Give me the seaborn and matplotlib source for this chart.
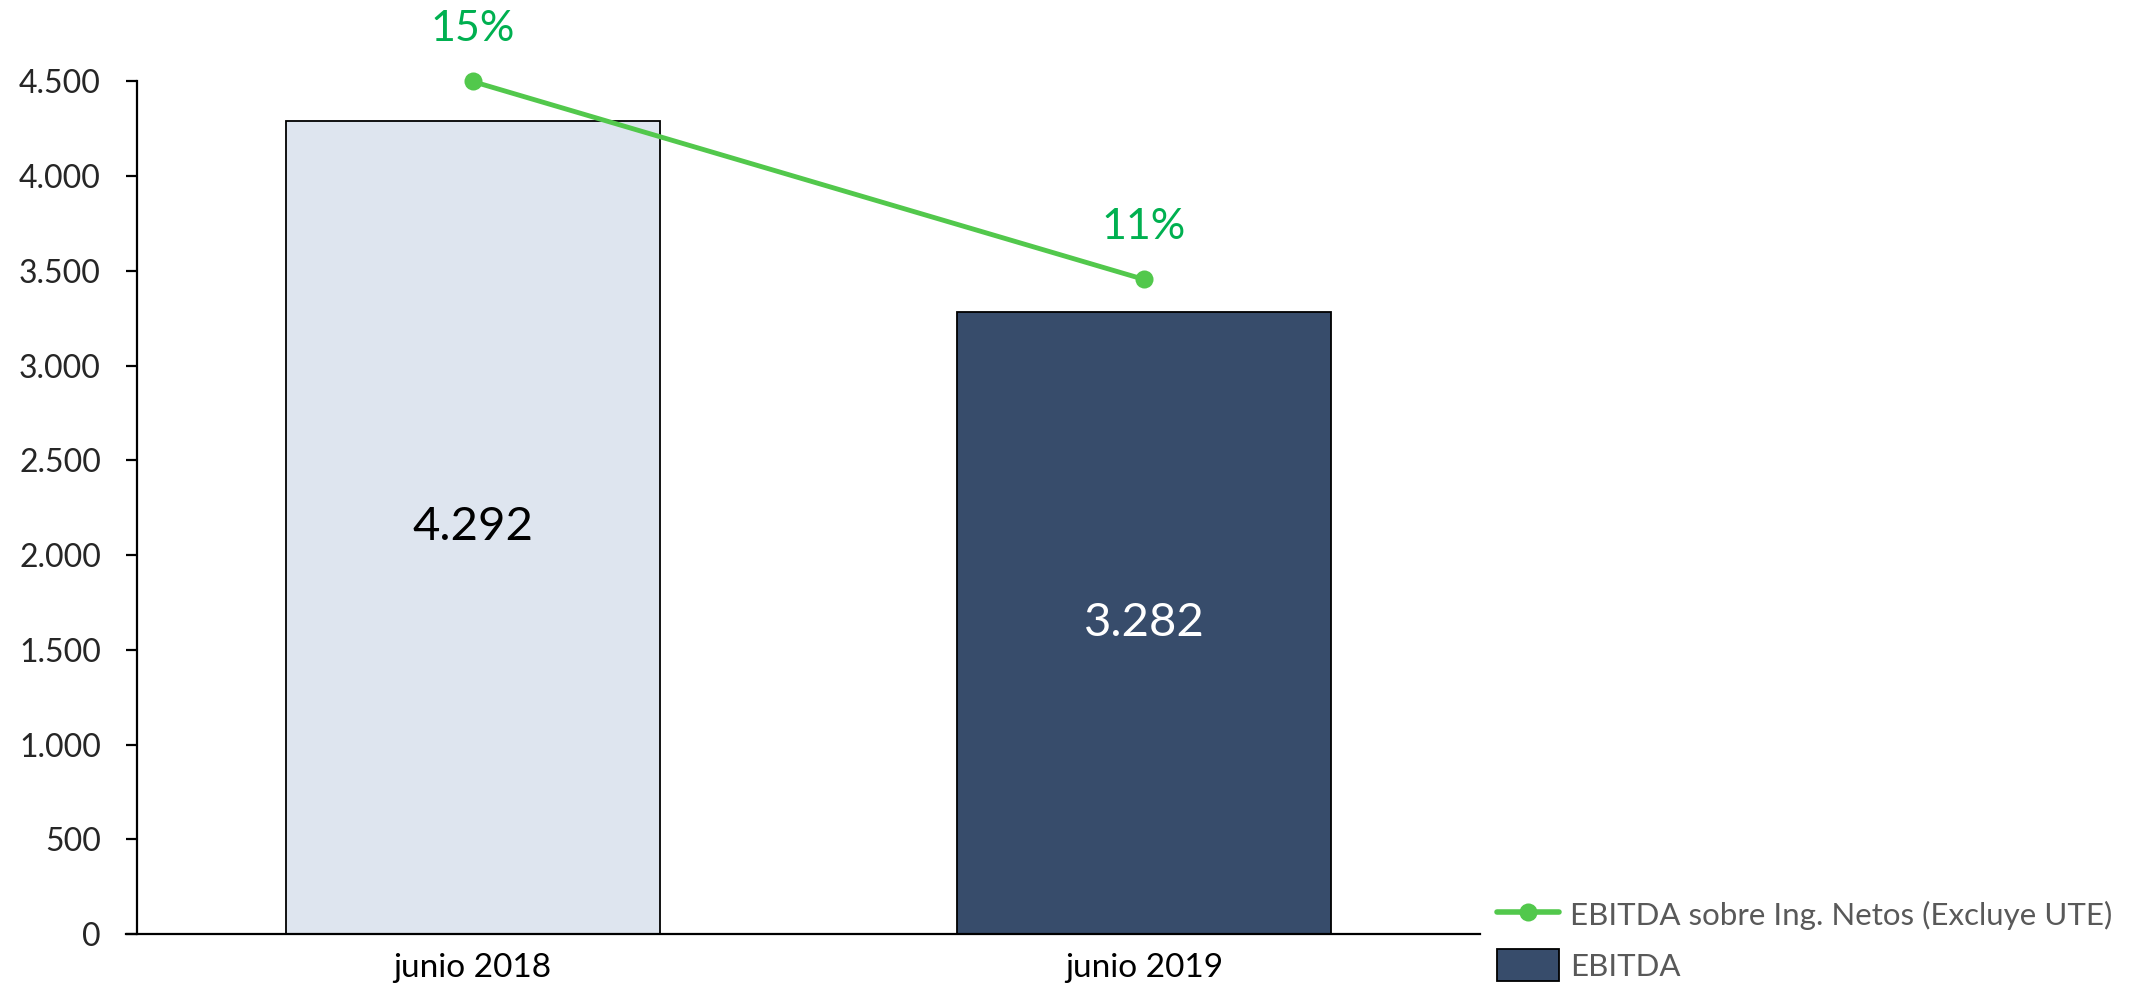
import pandas as pd
import seaborn as sns
import matplotlib.pyplot as plt
from matplotlib.ticker import FuncFormatter, MultipleLocator
from matplotlib.lines import Line2D
from matplotlib.patches import Patch

periods = ["junio 2018", "junio 2019"]
ebitda = [4292, 3282]
margin_pct = [15, 11]
bar_colors = ["#DEE5EF", "#374C6B"]
label_colors = ["black", "white"]
line_color = "#52C84C"
pct_color = "#00B050"

sns.set_theme(style="white")
plt.rcParams["font.family"] = ["Lato", "DejaVu Sans"]


def thousands(x, pos=None):
    return f"{x:,.0f}".replace(",", ".")


df = pd.DataFrame({"period": periods, "ebitda": ebitda, "margin": margin_pct})
df["pos"] = range(len(df))

fig = plt.figure(figsize=(21.48, 9.89), dpi=100)
ax = fig.add_axes([0.0638, 0.0556, 0.625, 0.862])

sns.barplot(data=df, x="period", y="ebitda", hue="period", palette=bar_colors,
            legend=False, width=0.557, edgecolor="black", linewidth=1.3,
            saturation=1, ax=ax)

ax.set_xlim(-0.5, 1.5)
ax.set_ylim(0, 4500)
ax.yaxis.set_major_locator(MultipleLocator(500))
ax.yaxis.set_major_formatter(FuncFormatter(thousands))
ax.set_xlabel("")
ax.set_ylabel("")
for s in ["top", "right"]:
    ax.spines[s].set_visible(False)
for s in ["left", "bottom"]:
    ax.spines[s].set_color("black")
    ax.spines[s].set_linewidth(1.6)
ax.spines["bottom"].set_bounds(-0.517, 1.5)
ax.tick_params(axis="y", which="major", left=True, length=8, width=1.6,
               color="black", labelsize=23, labelcolor="#262626", pad=18)
ax.tick_params(axis="x", bottom=False, labelsize=24, labelcolor="black", pad=8)

# value labels inside the bars
for bar, val, col in zip(ax.patches, ebitda, label_colors):
    ax.text(bar.get_x() + bar.get_width() / 2, val / 2, thousands(val),
            ha="center", va="center", fontsize=34, color=col)

# EBITDA margin on a hidden secondary axis
ax2 = ax.twinx()
sns.lineplot(data=df, x="pos", y="margin", color=line_color, linewidth=3.5,
             marker="o", markersize=13, markeredgewidth=0, ax=ax2, clip_on=False)
ax2.set_ylim(-2.23, 15.0)
ax2.set_xlim(-0.5, 1.5)
ax2.axis("off")
for x, v in zip(df["pos"], margin_pct):
    ax2.annotate(f"{v}%", (x, v), xytext=(0, 38), textcoords="offset points",
                 ha="center", va="center", fontsize=31, color=pct_color,
                 annotation_clip=False)

handles = [
    Line2D([0], [0], color=line_color, linewidth=4, marker="o", markersize=13,
           markeredgewidth=0),
    Patch(facecolor=bar_colors[1], edgecolor="black", linewidth=1.3),
]
fig.legend(handles, ["EBITDA sobre Ing. Netos (Excluye UTE)", "EBITDA"],
           loc="lower left", bbox_to_anchor=(0.691, -0.005), frameon=False,
           borderaxespad=0, fontsize=22.5, labelcolor="#595959",
           handlelength=2.0, handleheight=1.2, handletextpad=0.35,
           labelspacing=0.6)

fig.savefig("out.png", dpi=100)
